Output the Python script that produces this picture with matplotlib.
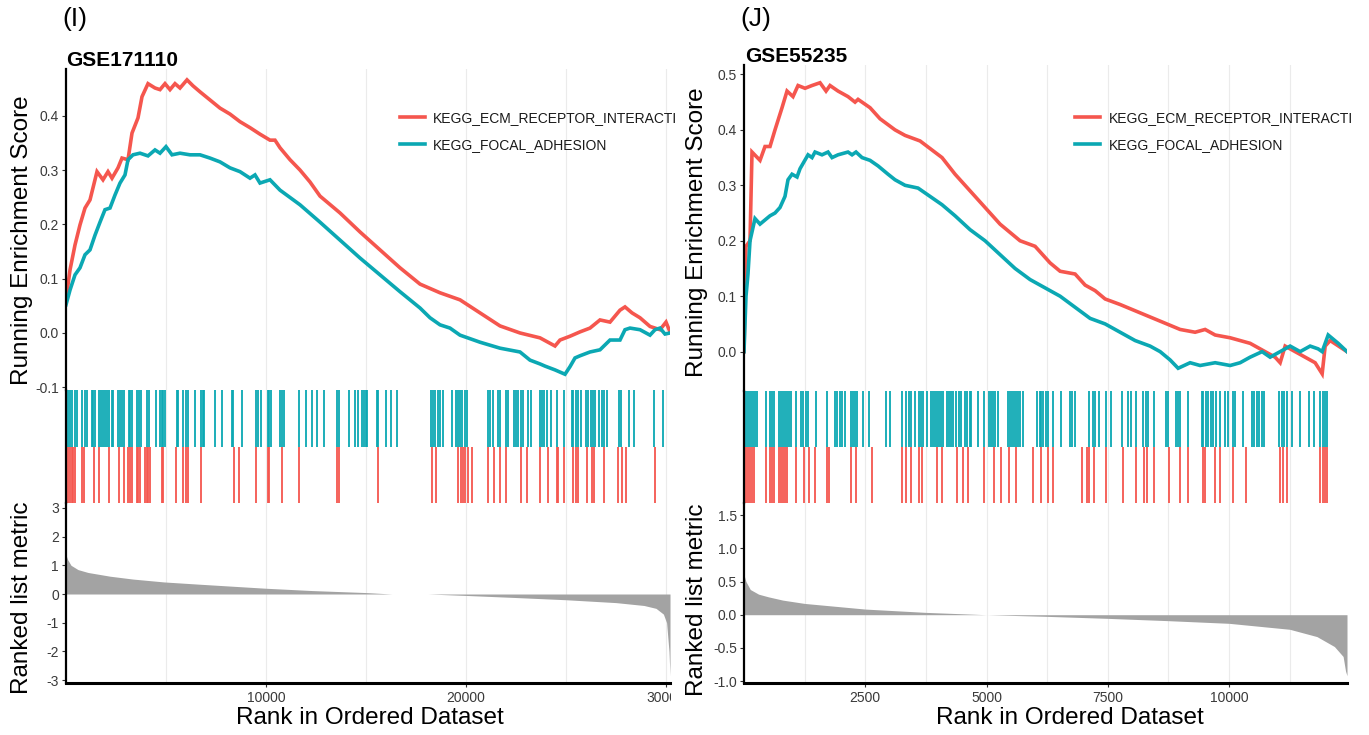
import matplotlib
matplotlib.use('Agg')
import matplotlib.pyplot as plt
from matplotlib.transforms import Bbox

plt.rcParams['font.family'] = ['Liberation Sans', 'DejaVu Sans']
plt.rcParams['axes.unicode_minus'] = False

# ---------------- data: GSE171110 ----------------
gse1_n = 30200
gse1_es_rank_ecm = [0, 200, 450, 700, 950, 1200, 1550, 1850, 2100, 2300, 2600, 2800, 3100, 3300, 3600, 3800,
                    4100, 4450, 4700, 4950, 5200, 5450, 5700, 6050, 6350, 6700, 7200, 7700, 8200, 8700, 9200,
                    9700, 10200, 10450, 10700, 11200, 11700, 12200, 12700, 13700, 14700, 15700, 16700, 17700,
                    18700, 19700, 20700, 21700, 22700, 23700, 24450, 24700, 25200, 25700, 26200, 26700, 27200,
                    27700, 27950, 28300, 28700, 29200, 29700, 30000, 30200]
gse1_es_ecm = [0.061, 0.116, 0.162, 0.199, 0.230, 0.245, 0.297, 0.282, 0.297, 0.285, 0.304, 0.322, 0.319, 0.368,
               0.396, 0.435, 0.459, 0.451, 0.448, 0.459, 0.448, 0.459, 0.451, 0.466, 0.455, 0.444, 0.429, 0.414,
               0.403, 0.389, 0.378, 0.366, 0.355, 0.355, 0.341, 0.319, 0.300, 0.278, 0.252, 0.221, 0.186, 0.153,
               0.120, 0.090, 0.074, 0.061, 0.037, 0.013, 0.000, -0.009, -0.024, -0.013, -0.006, 0.002, 0.009,
               0.024, 0.020, 0.042, 0.048, 0.037, 0.028, 0.012, 0.006, 0.020, 0.002]
gse1_es_rank_fa = [0, 200, 450, 700, 950, 1200, 1450, 1700, 1950, 2200, 2450, 2700, 2950, 3100, 3350, 3700, 4100,
                   4450, 4700, 5000, 5300, 5700, 6200, 6700, 7200, 7700, 8200, 8700, 9200, 9450, 9700, 10200,
                   10700, 11700, 12700, 13700, 14700, 15700, 16700, 17700, 18200, 18700, 19200, 19700, 20700,
                   21700, 22700, 23200, 23700, 23950, 24450, 24950, 25200, 25450, 25700, 26200, 26700, 27200,
                   27700, 27950, 28200, 28700, 29200, 29450, 29700, 29950, 30200]
gse1_es_fa = [0.052, 0.079, 0.107, 0.120, 0.144, 0.153, 0.180, 0.204, 0.227, 0.230, 0.254, 0.276, 0.291, 0.319,
              0.328, 0.331, 0.326, 0.337, 0.331, 0.343, 0.328, 0.331, 0.328, 0.328, 0.322, 0.315, 0.304, 0.297,
              0.285, 0.291, 0.276, 0.282, 0.263, 0.236, 0.204, 0.171, 0.138, 0.107, 0.076, 0.046, 0.028, 0.015,
              0.009, -0.004, -0.017, -0.028, -0.035, -0.050, -0.057, -0.061, -0.068, -0.076, -0.062, -0.046,
              -0.042, -0.035, -0.031, -0.013, -0.013, 0.006, 0.009, 0.006, -0.004, 0.006, 0.009, -0.002, 0.000]
gse1_hits_ecm = [117, 200, 283, 367, 433, 800, 900, 1400, 1650, 2167, 2650, 2900, 3117, 3200, 3283, 3533, 3617,
                 3700, 3950, 4033, 4117, 4200, 4783, 4867, 5483, 5867, 6000, 6117, 6733, 8383, 8650, 9483, 10083,
                 10167, 10817, 11650, 13533, 13650, 15617, 18283, 18483, 19617, 19733, 19833, 19950, 20117, 20317,
                 21083, 21417, 21700, 22000, 22733, 23067, 23700, 24117, 24533, 24617, 24917, 25367, 25483, 25617,
                 26033, 26283, 26400, 26917, 27617, 27783, 27983, 29450]
gse1_hits_fa = [117, 217, 300, 467, 567, 800, 967, 1067, 1283, 1367, 1433, 1650, 1733, 1833, 1933, 2067, 2167,
                2283, 2367, 2617, 2700, 2817, 2900, 3133, 3200, 3283, 3567, 3650, 3733, 4067, 4167, 4500, 4700,
                4783, 4867, 4950, 5533, 5617, 5867, 6000, 6117, 6450, 6733, 6833, 6917, 7467, 7783, 8283, 8367,
                8783, 9483, 9583, 9767, 10083, 10167, 10250, 10700, 10783, 10917, 11667, 11983, 12317, 12533,
                12900, 13567, 13667, 14150, 14450, 14583, 14817, 14900, 14983, 15067, 15533, 15617, 16000, 16233,
                16533, 18233, 18333, 18450, 18583, 18700, 18867, 19283, 19483, 19583, 19700, 19817, 19950, 20067,
                21083, 21200, 21367, 21617, 21700, 22000, 22117, 22400, 22483, 22617, 22750, 22867, 23083, 23233,
                23700, 23783, 23917, 24033, 24233, 24533, 24917, 25283, 25367, 25483, 25617, 25733, 26000, 26117,
                26233, 26333, 26450, 26667, 26783, 26900, 27033, 27650, 27750, 28167, 28417, 29417, 29867]
gse1_metric_rank = [0, 80, 250, 600, 1100, 2200, 3350, 4900, 6700, 10000, 12300, 15000, 16300, 18100, 20000,
                    22400, 25000, 27500, 28900, 29500, 29870, 30030, 30150, 30200]
gse1_metric = [1.36, 1.2, 1.0, 0.85, 0.75, 0.62, 0.52, 0.42, 0.34, 0.2, 0.12, 0.05, 0.0, 0.0, -0.05, -0.12,
               -0.2, -0.3, -0.4, -0.5, -0.7, -1.0, -2.0, -2.85]

# ---------------- data: GSE55235 ----------------
gse2_n = 12430
gse2_es_rank_ecm = [0, 41, 124, 165, 330, 433, 536, 639, 784, 887, 1010, 1114, 1258, 1402, 1567, 1691, 1773,
                    1938, 2144, 2289, 2351, 2598, 2804, 3113, 3320, 3629, 4082, 4351, 4660, 4969, 5278, 5690,
                    6000, 6310, 6516, 6825, 7032, 7238, 7444, 7753, 8165, 8578, 8990, 9299, 9505, 9712, 10021,
                    10433, 10742, 10948, 11052, 11155, 11361, 11567, 11773, 11918, 11980, 12083, 12430]
gse2_es_ecm = [0.0, 0.19, 0.2, 0.36, 0.345, 0.37, 0.37, 0.40, 0.44, 0.47, 0.46, 0.48, 0.475, 0.48, 0.485, 0.47,
               0.48, 0.47, 0.46, 0.45, 0.455, 0.44, 0.42, 0.40, 0.39, 0.38, 0.35, 0.32, 0.29, 0.26, 0.23, 0.20,
               0.19, 0.16, 0.145, 0.14, 0.12, 0.11, 0.095, 0.085, 0.07, 0.055, 0.04, 0.035, 0.04, 0.03, 0.025,
               0.015, 0.0, -0.01, -0.02, 0.01, 0.0, -0.01, -0.02, -0.04, 0.01, 0.02, 0.0]
gse2_es_rank_fa = [0, 41, 82, 124, 227, 330, 536, 639, 742, 845, 907, 990, 1093, 1155, 1320, 1402, 1464, 1608,
                   1732, 1815, 1938, 2144, 2227, 2309, 2433, 2598, 2763, 2969, 3113, 3320, 3588, 3835, 4082,
                   4351, 4660, 4969, 5278, 5588, 5897, 6206, 6516, 6825, 7134, 7444, 7753, 8062, 8371, 8578,
                   8784, 8949, 9196, 9402, 9712, 10021, 10227, 10433, 10680, 10845, 11052, 11258, 11464, 11670,
                   11835, 11918, 12042, 12248, 12430]
gse2_es_fa = [0.0, 0.10, 0.14, 0.20, 0.24, 0.23, 0.245, 0.25, 0.26, 0.28, 0.31, 0.32, 0.315, 0.33, 0.355, 0.35,
              0.36, 0.355, 0.36, 0.35, 0.355, 0.36, 0.355, 0.36, 0.35, 0.345, 0.335, 0.32, 0.31, 0.30, 0.295,
              0.28, 0.265, 0.245, 0.22, 0.20, 0.175, 0.15, 0.13, 0.115, 0.10, 0.08, 0.06, 0.05, 0.035, 0.02,
              0.01, 0.0, -0.015, -0.03, -0.02, -0.025, -0.02, -0.025, -0.02, -0.01, 0.0, -0.01, 0.0, 0.01, 0.0,
              0.01, 0.005, 0.0, 0.03, 0.015, 0.0]
gse2_hits_ecm = [41, 82, 123, 165, 206, 460, 543, 584, 625, 714, 756, 797, 838, 886, 1079, 1237, 1333, 1471,
                 1718, 1759, 2199, 2316, 2632, 3257, 3347, 3436, 3601, 3670, 3979, 4089, 4398, 4515, 4618, 4941,
                 5154, 5305, 5457, 5615, 5965, 6124, 6275, 6364, 6976, 7065, 7113, 7223, 7457, 7807, 8075, 8254,
                 8302, 8454, 8763, 8990, 9161, 9457, 9505, 9711, 9814, 10076, 10344, 11052, 11107, 11189, 11876,
                 11931, 11979, 12028]
gse2_hits_fa = [27, 68, 110, 151, 192, 233, 275, 460, 543, 584, 625, 714, 756, 797, 838, 886, 928, 976, 1079,
                1182, 1223, 1271, 1319, 1491, 1718, 1869, 1924, 1972, 2027, 2075, 2199, 2240, 2282, 2323, 2453,
                2570, 2921, 3017, 3257, 3347, 3395, 3436, 3519, 3608, 3656, 3691, 3780, 3849, 3890, 3931, 3972,
                4014, 4055, 4096, 4192, 4234, 4275, 4316, 4378, 4426, 4467, 4550, 4605, 4653, 4687, 4825, 4941,
                5045, 5100, 5134, 5182, 5237, 5443, 5477, 5526, 5567, 5615, 5649, 5684, 5752, 6041, 6096, 6124,
                6172, 6220, 6268, 6364, 6536, 6722, 6770, 6825, 7113, 7203, 7237, 7326, 7457, 7567, 7801, 7924,
                7972, 8075, 8234, 8289, 8337, 8454, 8701, 8749, 8907, 8941, 8990, 9161, 9436, 9471, 9519, 9574,
                9622, 9677, 9725, 9814, 9918, 9973, 10076, 10124, 10296, 10467, 10515, 10570, 10618, 10674,
                10722, 11038, 11086, 11141, 11203, 11306, 11464, 11656, 11760, 11876, 11931, 11979, 12028]
gse2_metric_rank = [0, 40, 130, 300, 500, 800, 1250, 2500, 3750, 5000, 6250, 7500, 8750, 10000, 11250, 11810,
                    12170, 12350, 12400, 12430]
gse2_metric = [0.6, 0.5, 0.38, 0.31, 0.27, 0.22, 0.17, 0.085, 0.035, 0.0, -0.025, -0.055, -0.09, -0.13, -0.22,
               -0.33, -0.48, -0.63, -0.85, -0.92]

set_labels = ['KEGG_ECM_RECEPTOR_INTERACTI', 'KEGG_FOCAL_ADHESION']
gse_titles = ['GSE171110', 'GSE55235']
panel_tags = ['(I)', '(J)']

gse1_x_major = [10000, 20000, 30000]
gse1_x_grid = [5000, 10000, 15000, 20000, 25000, 30000]
gse1_es_ticks = [-0.1, 0.0, 0.1, 0.2, 0.3, 0.4]
gse1_metric_ticks = [-3, -2, -1, 0, 1, 2, 3]
gse2_x_major = [2500, 5000, 7500, 10000]
gse2_x_grid = [1250, 2500, 3750, 5000, 6250, 7500, 8750, 10000, 11250]
gse2_es_ticks = [0.0, 0.1, 0.2, 0.3, 0.4, 0.5]
gse2_metric_ticks = [-1.0, -0.5, 0.0, 0.5, 1.0, 1.5]

# ---------------- styling ----------------
RED = '#F5564E'
TEAL = '#0BA8B3'
GREY_FILL = '#A3A3A3'
GRID = '#EBEBEB'
TICKC = '#3A3A3A'
TICK_FS = 10

W, H = 1369, 735
fig = plt.figure(figsize=(W / 100, H / 100), dpi=100)


def px_axes(x0, y0, x1, y1):
    return fig.add_axes([x0 / W, 1 - y1 / H, (x1 - x0) / W, (y1 - y0) / H])


panels = [
    dict(x0=66, x1=670, es_top=69, hit_top=390, met_top=503, met_bot=683,
         n=gse1_n, es_ylim=(-0.105, 0.486), met_ylim=(-3.10, 3.17),
         es_ticks=gse1_es_ticks, es_fmt='{:.1f}', met_ticks=gse1_metric_ticks, met_fmt='{:.0f}',
         x_major=gse1_x_major, x_grid=gse1_x_grid,
         re=gse1_es_rank_ecm, e=gse1_es_ecm, rf=gse1_es_rank_fa, f=gse1_es_fa,
         he=gse1_hits_ecm, hf=gse1_hits_fa, mr=gse1_metric_rank, m=gse1_metric,
         leg=(0.553, 0.870), tag_xy=(62, 19), title_xy=(66, 60),
         ylab_x=22, ylab1_y=240, ylab2_y=598, xlab_x=370),
    dict(x0=744, x1=1347, es_top=65, hit_top=391, met_top=503, met_bot=683,
         n=gse2_n, es_ylim=(-0.071, 0.517), met_ylim=(-1.03, 1.685),
         es_ticks=gse2_es_ticks, es_fmt='{:.1f}', met_ticks=gse2_metric_ticks, met_fmt='{:.1f}',
         x_major=gse2_x_major, x_grid=gse2_x_grid,
         re=gse2_es_rank_ecm, e=gse2_es_ecm, rf=gse2_es_rank_fa, f=gse2_es_fa,
         he=gse2_hits_ecm, hf=gse2_hits_fa, mr=gse2_metric_rank, m=gse2_metric,
         leg=(0.549, 0.860), tag_xy=(740, 19), title_xy=(745, 56),
         ylab_x=697, ylab1_y=232, ylab2_y=600, xlab_x=1070),
]

clip_labels = []
for i, p in enumerate(panels):
    ax_es = px_axes(p['x0'], p['es_top'], p['x1'], p['hit_top'])
    ax_hit = px_axes(p['x0'], p['hit_top'], p['x1'], p['met_top'])
    ax_met = px_axes(p['x0'], p['met_top'], p['x1'], p['met_bot'])

    for ax in (ax_es, ax_hit, ax_met):
        ax.set_xlim(0, p['n'])
        ax.set_facecolor('none')
        for s in ('top', 'right'):
            ax.spines[s].set_visible(False)
        ax.spines['left'].set_color('black')
        ax.spines['left'].set_linewidth(1.6)
        ax.set_axisbelow(True)
        ax.tick_params(axis='y', labelsize=TICK_FS, labelcolor=TICKC, color='#333333', length=3,
                       width=0.8, pad=2)

    for ax in (ax_es, ax_hit):
        ax.spines['bottom'].set_visible(False)
        ax.set_xticks(p['x_grid'])
        ax.tick_params(axis='x', length=0, labelbottom=False)
        ax.grid(axis='x', color=GRID, linewidth=0.8)

    # running enrichment score
    ax_es.plot(p['re'], p['e'], color=RED, lw=2.6, solid_joinstyle='miter', label=set_labels[0])
    ax_es.plot(p['rf'], p['f'], color=TEAL, lw=2.6, solid_joinstyle='miter', label=set_labels[1])
    ax_es.set_ylim(*p['es_ylim'])
    ax_es.set_yticks(p['es_ticks'])
    ax_es.set_yticklabels([p['es_fmt'].format(v) for v in p['es_ticks']])
    leg = ax_es.legend(loc='upper left', bbox_to_anchor=p['leg'], frameon=False, fontsize=10,
                       handlelength=1.8, handletextpad=0.6, labelspacing=0.95, borderpad=0,
                       borderaxespad=0)
    for t in leg.get_texts():
        t.set_color('#1A1A1A')

    # hits
    ax_hit.vlines(p['hf'], 1, 2, color=TEAL, lw=1.3)
    ax_hit.vlines(p['he'], 0, 1, color=RED, lw=1.3)
    ax_hit.set_ylim(0, 2)
    ax_hit.set_yticks([])

    # ranked list metric
    ax_met.fill_between(p['mr'], p['m'], 0, color=GREY_FILL, linewidth=0)
    ax_met.set_ylim(*p['met_ylim'])
    ax_met.set_yticks(p['met_ticks'])
    ax_met.set_yticklabels([p['met_fmt'].format(v) for v in p['met_ticks']])
    ax_met.set_xticks(p['x_major'])
    ax_met.set_xticklabels([str(v) for v in p['x_major']])
    ax_met.set_xticks(p['x_grid'], minor=True)
    ax_met.tick_params(axis='x', which='major', labelsize=TICK_FS, labelcolor=TICKC, color='#333333',
                       length=3, width=0.8, pad=3)
    ax_met.tick_params(axis='x', which='minor', length=0)
    ax_met.grid(axis='x', which='both', color=GRID, linewidth=0.8)
    ax_met.spines['bottom'].set_linewidth(2.2)
    ax_met.spines['bottom'].set_color('black')
    if i == 0:
        clip_labels.extend(ax_met.get_xticklabels())

    # texts
    fig.text(p['tag_xy'][0] / W, 1 - p['tag_xy'][1] / H, panel_tags[i], fontsize=19,
             ha='left', va='center')
    fig.text(p['title_xy'][0] / W, 1 - p['title_xy'][1] / H, gse_titles[i], fontsize=15,
             fontweight='bold', ha='left', va='center')
    fig.text(p['ylab_x'] / W, 1 - p['ylab1_y'] / H, 'Running Enrichment Score', rotation=90,
             fontsize=17.5, ha='center', va='center')
    fig.text(p['ylab_x'] / W, 1 - p['ylab2_y'] / H, 'Ranked list metric', rotation=90,
             fontsize=17.5, ha='center', va='center')
    fig.text(p['xlab_x'] / W, 1 - 718 / H, 'Rank in Ordered Dataset', fontsize=17.5,
             ha='center', va='center')

fig.canvas.draw()
clip = Bbox.from_extents(0, 0, 671, H)
for t in clip_labels:
    t.set_clip_box(clip)
    t.set_clip_on(True)

fig.savefig('out.png', dpi=100)
